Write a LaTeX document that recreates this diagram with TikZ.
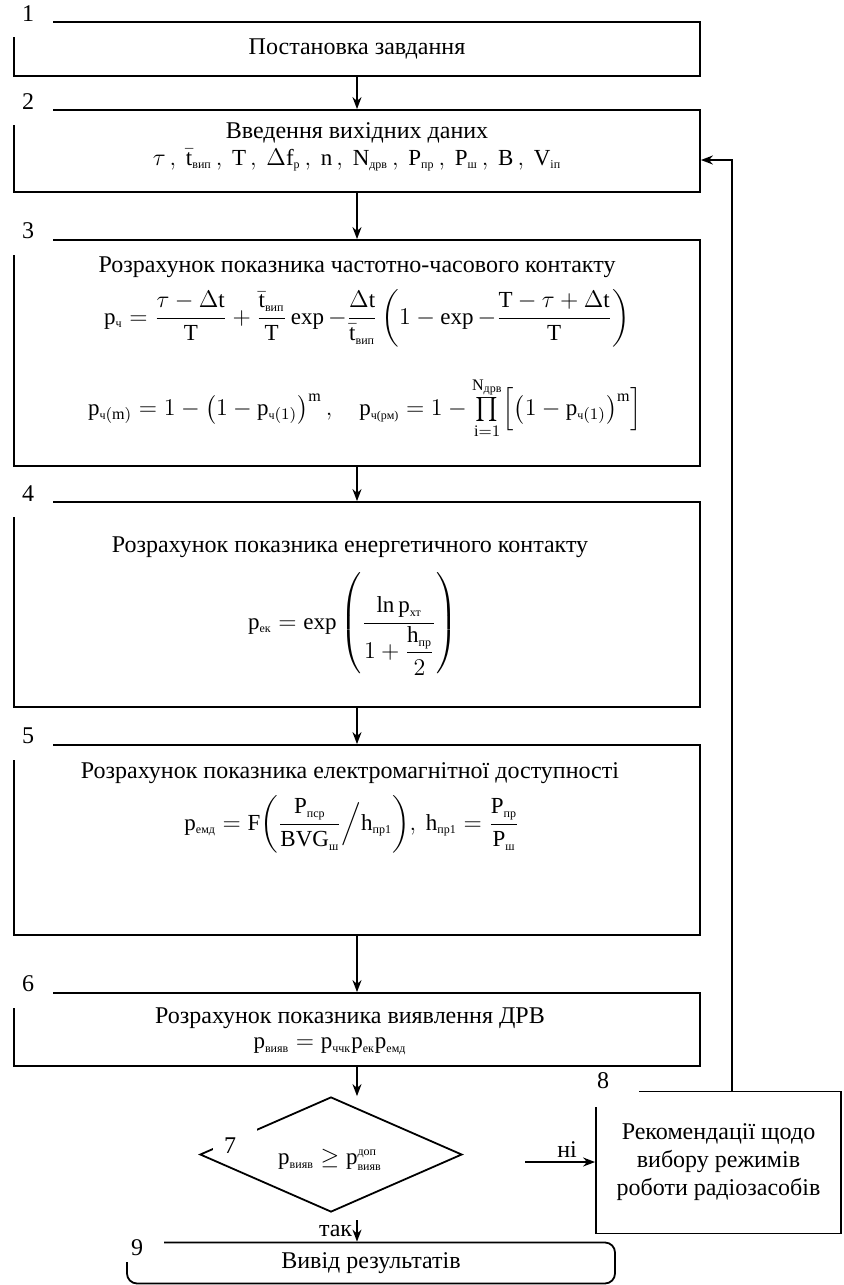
\documentclass[tikz,border=0pt]{standalone}
\usepackage{amsmath}
\usepackage{fontspec}
\setmainfont{Liberation Serif}
\usetikzlibrary{arrows.meta, shapes.geometric}

\newcommand{\rmv}[1]{\mathrm{#1}}
\newcommand{\sub}[1]{\text{\fontsize{6}{7}\selectfont #1}}

\begin{document}
\begin{tikzpicture}[
    x=0.5pt, y=-0.5pt,
    >=Stealth,
    font=\fontsize{12}{14}\selectfont,
    stepbox/.style={draw, line width=0.9pt, minimum width=343pt, inner sep=0pt, align=center},
    sidebox/.style={draw, line width=0.9pt, minimum width=122.5pt, minimum height=71pt, inner sep=0pt, align=center},
    endbox/.style={draw, line width=0.9pt, rounded corners=5pt, minimum width=244pt, minimum height=20.5pt, inner sep=0pt},
    decision/.style={draw, diamond, line width=0.9pt, minimum width=131pt, minimum height=57.5pt, inner sep=0pt},
    txt/.style={inner sep=1pt},
    formula/.style={inner sep=1pt, font=\fontsize{11.5}{13}\selectfont},
    numtxt/.style={inner sep=0pt, font=\fontsize{12}{14}\selectfont},
    arr/.style={->, line width=0.9pt, >={Stealth[length=6pt, width=4.5pt]}},
]
\useasboundingbox (0,0) rectangle (843,1285);

% Main column of blocks
\node[stepbox, minimum height=27pt] (b1) at (357,49) {Постановка завдання};
\node[stepbox, minimum height=41pt] (b2) at (357,151) {};
\node[stepbox, minimum height=113pt] (b3) at (357,353) {};
\node[stepbox, minimum height=102.5pt] (b4) at (357,604.5) {};
\node[stepbox, minimum height=95pt] (b5) at (357,840) {};
\node[stepbox, minimum height=36.5pt] (b6) at (357,1029.5) {};
\node[decision] (dia) at (331,1154.5) {};
\node[sidebox] (b8) at (718.5,1162.5) {Рекомендації щодо\\ вибору режимів\\ роботи радіозасобів};
\node[endbox] (b9) at (371,1263) {Вивід результатів};

% Block contents
\node[txt] (b2t) at (357,133) {Введення вихідних даних};
\node[formula] (b2f) at (357,160) {$\tau\,,\ \bar{\rmv{t}}_{\sub{вип}}\,,\ \rmv{T}\,,\ \Delta\rmv{f}_{\sub{р}}\,,\ \rmv{n}\,,\ \rmv{N}_{\sub{дрв}}\,,\ \rmv{P}_{\sub{пр}}\,,\ \rmv{P}_{\sub{ш}}\,,\ \rmv{B}\,,\ \rmv{V}_{\sub{іп}}$};

\node[txt] (b3t) at (357,267) {Розрахунок показника частотно-часового контакту};
\node[formula] (b3f) at (367,318) {$\rmv{p}_{\sub{ч}} = \dfrac{\tau-\Delta\rmv{t}}{\rmv{T}} + \dfrac{\bar{\rmv{t}}_{\sub{вип}}}{\rmv{T}}\exp-\dfrac{\Delta\rmv{t}}{\bar{\rmv{t}}_{\sub{вип}}}\left(1-\exp-\dfrac{\rmv{T}-\tau+\Delta\rmv{t}}{\rmv{T}}\right)$};
\node[formula] (b3g) at (365,408) {$\rmv{p}_{\sub{ч}(\rmv{m})} = 1-\bigl(1-\rmv{p}_{\sub{ч}(1)}\bigr)^{\rmv{m}}\,,\quad \rmv{p}_{\sub{ч(рм)}} = 1-\prod\limits_{\rmv{i}=1}^{\rmv{N}_{\sub{дрв}}}\Bigl[\bigl(1-\rmv{p}_{\sub{ч}(1)}\bigr)^{\rmv{m}}\Bigr]$};

\node[txt] (b4t) at (350,547) {Розрахунок показника енергетичного контакту};
\node[formula] (b4f) at (353,624) {$\rmv{p}_{\sub{ек}} = \exp\left(\dfrac{\ln\rmv{p}_{\sub{хт}}}{1+\dfrac{\rmv{h}_{\sub{пр}}}{2}}\right)$};

\node[txt] (b5t) at (350,773) {Розрахунок показника електромагнітної доступності};
\node[formula] (b5f) at (352,824) {$\rmv{p}_{\sub{емд}} = \rmv{F}\biggl(\dfrac{\rmv{P}_{\sub{пср}}}{\rmv{BVG}_{\sub{ш}}}\Big/\rmv{h}_{\sub{пр1}}\biggr),\ \rmv{h}_{\sub{пр1}} = \dfrac{\rmv{P}_{\sub{пр}}}{\rmv{P}_{\sub{ш}}}$};

\node[txt] (b6t) at (350,1018) {Розрахунок показника виявлення ДРВ};
\node[formula] (b6f) at (330,1046) {$\rmv{p}_{\sub{вияв}} = \rmv{p}_{\sub{ччк}}\rmv{p}_{\sub{ек}}\rmv{p}_{\sub{емд}}$};

\node[formula] (diat) at (330,1160) {$\rmv{p}_{\sub{вияв}} \ge \rmv{p}_{\sub{вияв}}^{\sub{доп}}$};

% Corner numbers over white masks
\foreach \b/\n in {b1/1, b2/2, b3/3, b4/4, b5/5, b6/6} {
    \fill[white] ([xshift=-2pt, yshift=2pt]\b.north west) rectangle ([xshift=20pt, yshift=-8pt]\b.north west);
    \node[numtxt] (n\n) at ([xshift=7.5pt, yshift=4pt]\b.north west) {\n};
}
\fill[white] ([xshift=-2pt, yshift=2pt]b8.north west) rectangle ([xshift=22pt, yshift=-8pt]b8.north west);
\node[numtxt] (n8) at ([xshift=4pt, yshift=5pt]b8.north west) {8};
\fill[white] ([xshift=-2pt, yshift=2pt]b9.north west) rectangle ([xshift=19pt, yshift=-10pt]b9.north west);
\node[numtxt] (n9) at ([xshift=5.5pt, yshift=-3pt]b9.north west) {9};
\fill[white] (213,1120) rectangle (257,1150);
\node[numtxt] (n7) at (230,1146) {7};

% Flow
\draw[arr] (b1.south) -- (b2.north);
\draw[arr] (b2.south) -- (b3.north);
\draw[arr] (b3.south) -- (b4.north);
\draw[arr] (b4.south) -- (b5.north);
\draw[arr] (b5.south) -- (b6.north);
\draw[arr] (b6.south) -- (b6.south |- dia.north);

% Decision branches
\coordinate (yes) at (357,1220);
\draw[arr] (yes) -- (yes |- b9.north) node[midway, left, inner sep=2pt] {так};
\coordinate (no) at (525,1162);
\draw[arr] (no) -- (no -| b8.west) node[pos=0.6, above, inner sep=2pt] {ні};

% Return to input data
\coordinate (fb) at (732,160);
\draw[arr] (fb |- b8.north) -- (fb) -- (fb -| b2.east);

\end{tikzpicture}
\end{document}
